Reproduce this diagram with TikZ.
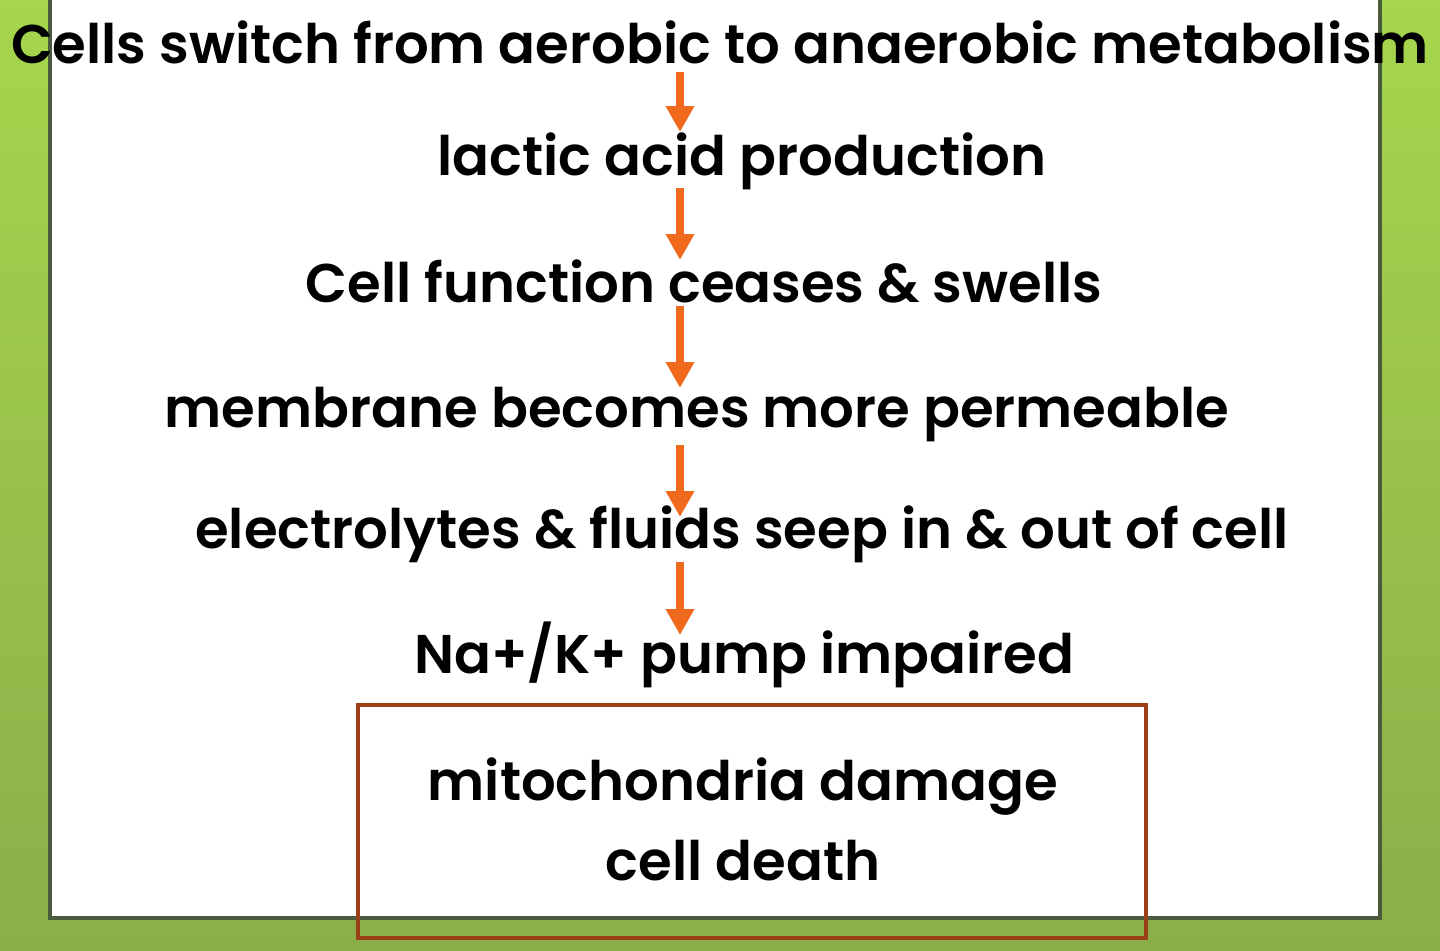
\documentclass[tikz,border=0pt]{standalone}
\usepackage{fontspec}
\setmainfont{Poppins}[BoldFont={Poppins SemiBold}]
\usetikzlibrary{arrows.meta,calc}

\definecolor{leafgreen}{HTML}{A6D64C}
\definecolor{olivegreen}{HTML}{8BAE4A}
\definecolor{panelrim}{HTML}{4A5A3C}
\definecolor{flowarrow}{HTML}{F06A1E}
\definecolor{rustbox}{HTML}{9C3E16}

\tikzset{
    step text/.style={anchor=base, inner sep=0pt, font=\fontsize{27.25}{32}\selectfont\bfseries},
    flow/.style={draw=flowarrow, line width=3.8pt, -{Triangle[width=13.5pt,length=13pt]}}
}

\begin{document}
\begin{tikzpicture}[x=0.5pt, y=-0.5pt]
        % background and panel
        \shade [top color=leafgreen, bottom color=olivegreen] (0,0) rectangle (1440,950);
        \useasboundingbox (0,0) rectangle (1440,950);
        \draw [panelrim, line width=1.8pt, fill=white] (50,-20) rectangle (1380,918);

        \coordinate (ax) at (680,0);

        \node [step text] (l1) at (720,63) {Cells switch from aerobic to anaerobic metabolism};
        \node [step text] (l2) at (742,175) {lactic acid production};
        \node [step text] (l3) at (704,302) {Cell function ceases \& swells};
        \node [step text] (l4) at (697,427) {membrane becomes more permeable};
        \node [step text] (l5) at (742,548) {electrolytes \& fluids seep in \& out of cell};
        \node [step text] (l6) at (744,673) {Na+/K+ pump impaired};
        \node [step text] (l7) at (743,800) {mitochondria damage};
        \node [step text] (l8) at (743,880) {cell death};

        \draw [rustbox, line width=2pt] (358,705) rectangle (1146,938);

        % arrows between the steps
        \foreach \a/\b/\s/\t in {l1/l2/9/43, l2/l3/13/42, l3/l4/4/39, l4/l5/18/31, l5/l6/14/38}
            \draw [flow] ($(\a.base -| ax)+(0,\s)$) -- ($(\b.base -| ax)+(0,-\t)$);
\end{tikzpicture}
\end{document}
